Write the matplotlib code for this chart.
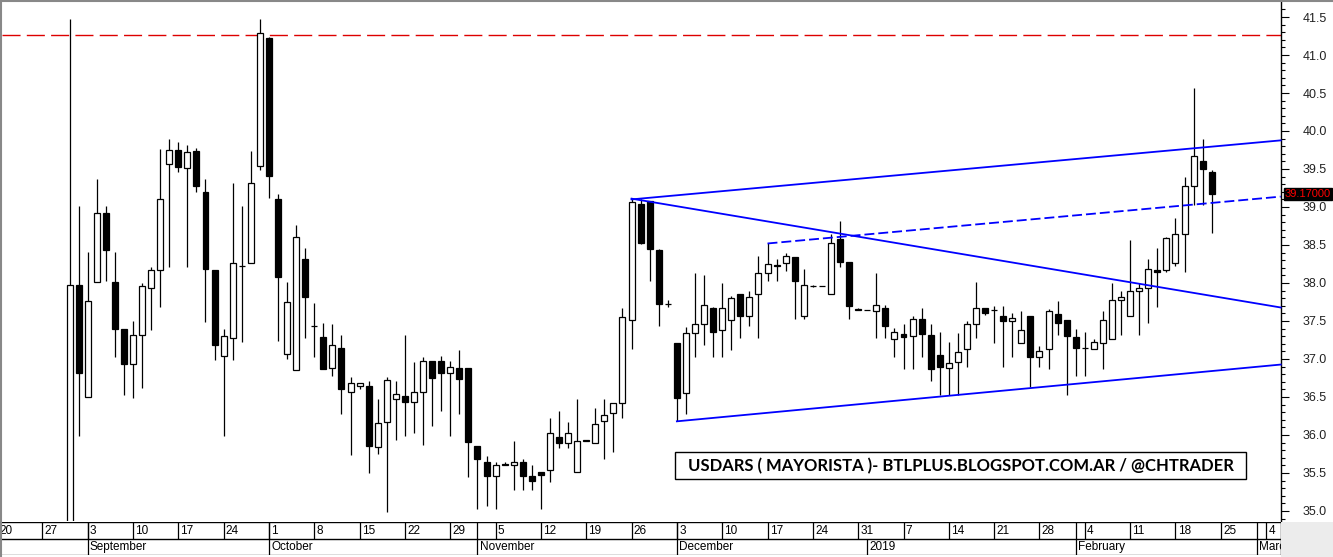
import numpy as np
import pandas as pd
import matplotlib
matplotlib.use('Agg')
import matplotlib.pyplot as plt
from matplotlib.ticker import MultipleLocator, FormatStrFormatter
from matplotlib.lines import Line2D
from matplotlib.patches import Rectangle

# USDARS mayorista, daily candles 30-Aug-2018 .. 22-Feb-2019 (every weekday)
dates = pd.bdate_range('2018-08-30', '2019-02-22')

opens = [34.40, 37.97, 36.50, 38.01, 38.92, 38.01, 37.39, 36.93, 37.32, 37.93,
         38.17, 39.56, 39.75, 39.51, 39.74, 39.20, 38.17, 37.04, 37.27, 38.22,
         38.26, 39.54, 41.22, 39.11, 37.06, 36.86, 38.31, 37.43, 37.29, 36.88,
         37.15, 36.57, 36.65, 36.65, 35.84, 36.17, 36.48, 36.51, 36.43, 36.56,
         36.98, 36.98, 36.81, 36.88, 36.88, 35.86, 35.64, 35.46, 35.62, 35.60,
         35.64, 35.46, 35.51, 35.54, 35.98, 35.90, 35.51, 35.94, 35.90, 36.18,
         36.29, 36.42, 37.51, 39.04, 39.08, 38.43, 37.73, 37.21, 36.55, 37.34,
         37.46, 37.67, 37.38, 37.51, 37.86, 37.57, 37.86, 38.13, 38.24, 38.26,
         38.34, 37.56, 37.96, 37.96, 37.86, 38.58, 38.27, 37.66, 37.64, 37.63,
         37.67, 37.26, 37.33, 37.30, 37.53, 37.32, 37.05, 36.88, 36.96, 37.13,
         37.46, 37.67, 37.65, 37.56, 37.50, 37.21, 37.56, 37.02, 37.13, 37.59,
         37.51, 37.29, 37.14, 37.13, 37.21, 37.26, 37.77, 37.56, 37.90, 37.94,
         38.17, 38.17, 38.26, 38.65, 39.27, 39.61, 39.46]
highs = [41.47, 39.01, 38.41, 39.37, 39.01, 38.41, 37.39, 37.50, 38.00, 38.21,
         39.76, 39.89, 39.86, 39.82, 39.78, 39.37, 38.17, 37.39, 39.32, 39.01,
         39.74, 41.47, 41.24, 39.17, 38.01, 38.76, 38.46, 37.74, 37.48, 37.46,
         37.31, 36.76, 36.69, 36.71, 36.48, 36.76, 36.71, 37.32, 36.96, 37.02,
         36.98, 37.04, 36.98, 37.12, 36.88, 35.86, 35.72, 35.65, 35.64, 35.92,
         35.68, 35.61, 35.51, 36.22, 36.31, 36.17, 36.47, 35.94, 36.35, 36.47,
         36.42, 37.67, 39.10, 39.10, 39.08, 38.45, 37.77, 37.21, 37.42, 38.13,
         38.11, 37.69, 38.00, 37.83, 37.86, 37.89, 38.35, 38.52, 38.31, 38.39,
         38.34, 38.19, 37.98, 37.96, 38.65, 38.82, 38.27, 37.67, 37.64, 38.13,
         37.71, 37.41, 37.46, 37.57, 37.67, 37.46, 37.35, 37.22, 37.34, 37.50,
         38.01, 37.67, 37.70, 37.70, 37.61, 37.63, 37.56, 37.17, 37.66, 37.76,
         37.51, 37.40, 37.36, 37.26, 37.63, 38.00, 37.90, 38.56, 38.00, 38.31,
         38.46, 38.61, 38.86, 39.39, 40.56, 39.89, 39.49]
lows = [34.30, 35.99, 36.50, 38.01, 38.02, 37.02, 36.52, 36.49, 36.62, 37.38,
        37.68, 38.21, 39.46, 38.21, 39.20, 37.49, 36.99, 35.99, 36.99, 37.22,
        38.26, 39.49, 39.12, 37.24, 37.00, 36.86, 37.27, 37.02, 36.87, 36.77,
        36.27, 35.74, 36.60, 35.50, 35.75, 34.99, 35.93, 35.99, 36.02, 35.87,
        36.12, 36.32, 35.99, 36.27, 35.45, 35.02, 35.07, 35.02, 35.60, 35.27,
        35.28, 35.27, 35.02, 35.38, 35.83, 35.83, 35.51, 35.92, 35.90, 35.68,
        35.77, 36.23, 37.13, 38.51, 38.02, 37.43, 37.69, 36.18, 36.27, 37.02,
        37.18, 37.02, 37.02, 37.12, 37.27, 37.43, 37.27, 38.02, 38.02, 38.16,
        37.52, 37.52, 37.95, 37.96, 37.86, 38.21, 37.52, 37.64, 37.64, 37.27,
        37.27, 37.02, 36.87, 36.87, 37.02, 36.71, 36.52, 36.52, 36.52, 36.89,
        37.27, 37.58, 37.21, 36.89, 37.02, 37.21, 36.63, 36.89, 36.87, 37.32,
        36.52, 36.77, 36.77, 37.13, 36.87, 37.26, 37.32, 37.56, 37.32, 37.47,
        37.68, 38.14, 38.22, 38.14, 39.02, 39.02, 38.66]
closes = [37.97, 36.82, 37.76, 38.92, 38.44, 37.40, 36.94, 37.32, 37.96, 38.17,
          39.11, 39.75, 39.52, 39.73, 39.27, 38.18, 37.19, 37.30, 38.26, 38.22,
          39.31, 41.29, 39.41, 38.08, 37.75, 38.60, 37.82, 37.43, 36.87, 37.18,
          36.61, 36.69, 36.69, 35.85, 36.16, 36.72, 36.54, 36.44, 36.56, 36.98,
          36.75, 36.81, 36.89, 36.74, 35.91, 35.69, 35.46, 35.61, 35.60, 35.64,
          35.46, 35.40, 35.48, 36.02, 35.90, 36.02, 35.92, 35.92, 36.15, 36.26,
          36.42, 37.55, 39.07, 38.53, 38.45, 37.73, 37.73, 36.49, 37.34, 37.46,
          37.71, 37.35, 37.67, 37.80, 37.57, 37.81, 38.13, 38.25, 38.22, 38.36,
          38.02, 37.97, 37.96, 37.96, 38.52, 38.28, 37.70, 37.64, 37.64, 37.71,
          37.43, 37.35, 37.29, 37.53, 37.33, 36.87, 36.89, 36.95, 37.09, 37.46,
          37.67, 37.60, 37.65, 37.50, 37.54, 37.38, 37.03, 37.10, 37.63, 37.47,
          37.30, 37.14, 37.14, 37.22, 37.51, 37.77, 37.82, 37.90, 37.94, 38.19,
          38.15, 38.59, 38.65, 39.27, 39.67, 39.50, 39.17]

# trend lines: anchor dates / prices (extended to the right edge)
trend_start_dates = ['2018-11-26', '2018-11-26', '2018-12-17', '2018-12-03']
trend_start_prices = [39.10, 39.11, 38.52, 36.18]
trend_end_date = '2019-03-05'
trend_end_prices = [39.87, 37.69, 39.13, 36.92]
trend_dashed = [False, False, True, False]
resistance = 41.26
last_price = 39.17

week_starts = pd.date_range('2018-08-20', '2019-03-04', freq='W-MON')
month_dates = ['2018-09-03', '2018-10-01', '2018-11-01', '2018-12-03',
               '2019-01-01', '2019-02-01', '2019-03-01']
month_labels = ['September', 'October', 'November', 'December',
                '2019', 'February', 'March']
month_top_sep = [True, True, True, True, False, True, True]

title = 'USDARS ( MAYORISTA )- BTLPLUS.BLOGSPOT.COM.AR / @CHTRADER'

origin = '2018-08-20'
def dayidx(ds):
    return np.busday_count(origin, np.array(ds, dtype='datetime64[D]'))

W, H = 1333, 557
fig = plt.figure(figsize=(W / 100, H / 100), dpi=100)
plt.rcParams['font.family'] = ['Liberation Sans', 'DejaVu Sans']

# pixel layout
px_day, x_off = 9.065, -3.0
left_px, right_px, top_px, bot_px = 2, 1280.7, 2, 521
ax = fig.add_axes([left_px / W, 1 - bot_px / H, (right_px - left_px) / W, (bot_px - top_px) / H])
ax.set_xlim((left_px - x_off) / px_day, (right_px - x_off) / px_day)
ax.set_ylim(41.5 - (bot_px - 17) / 76, 41.5 + (17 - top_px) / 76)

x = dayidx(dates.values.astype('datetime64[D]'))
o, h, l, c = map(np.array, (opens, highs, lows, closes))
up = c >= o
ax.vlines(x, l, h, color='black', lw=0.9, zorder=2)
ax.bar(x, c - o, bottom=o, width=0.66, color=np.where(up, 'white', 'black'),
       edgecolor='black', lw=0.9, zorder=3)

ax.axhline(resistance, color='#dd0000', lw=1.0, linestyle=(0, (13, 4.5)), zorder=1)

xr = ax.get_xlim()[1]
xe = dayidx(trend_end_date)
for sd, sp, ep, dashed in zip(trend_start_dates, trend_start_prices, trend_end_prices, trend_dashed):
    xs = dayidx(sd)
    slope = (ep - sp) / (xe - xs)
    ls = (0, (5.5, 2.2)) if dashed else '-'
    ax.plot([xs, xr], [sp, sp + slope * (xr - xs)], color='#0000ff', lw=1.3,
            linestyle=ls, zorder=4, clip_on=False)

for s in ['left', 'top', 'bottom']:
    ax.spines[s].set_visible(False)
ax.spines['right'].set_linewidth(1.0)
ax.yaxis.tick_right()
ax.yaxis.set_major_locator(MultipleLocator(0.5))
ax.yaxis.set_minor_locator(MultipleLocator(0.1))
ax.yaxis.set_major_formatter(FormatStrFormatter('%.1f'))
ax.tick_params(axis='y', which='major', length=6, width=0.8, pad=10,
               labelsize=9, labelcolor='#222222')
ax.tick_params(axis='y', which='minor', length=3, width=0.8)
ax.set_xticks([])

# last price tag
ax.annotate(f'{last_price:.5f}', xy=(1, last_price), xycoords=('axes fraction', 'data'),
            xytext=(3, 0), textcoords='offset points', ha='left', va='center',
            fontsize=8, color='#ff0000', zorder=10, annotation_clip=False,
            bbox=dict(boxstyle='square,pad=0.12', fc='black', ec='black'))

# title box
fig.patches.append(Rectangle((675 / W, 1 - 479 / H), 571 / W, 27 / H, transform=fig.transFigure,
                             fc='white', ec='black', lw=1.0, zorder=5))
fig.text(960.5 / W, 1 - 466 / H, title, ha='center', va='center', fontsize=12,
         fontweight='bold', family=['Lato', 'DejaVu Sans'], zorder=6)

# date strip
ax2 = fig.add_axes([0, 1 - 555 / H, right_px / W, (555 - 522) / H])
ax2.set_xlim((0 - x_off) / px_day, (right_px - x_off) / px_day)
ax2.set_ylim(0, 1)
ax2.axis('off')
ax2.axhline(1, color='black', lw=1.0)
ax2.axhline(0.5, color='black', lw=1.0)
ax2.axhline(0, color='#555555', lw=1.0)
ax2.axvline(ax2.get_xlim()[1], color='black', lw=1.0)
lab_off = 2.2 / px_day
wx = dayidx(week_starts.values.astype('datetime64[D]'))
ax2.vlines(wx, 0.5, 1, color='black', lw=0.9)
for xi, dt in zip(wx, week_starts):
    ax2.text(xi + lab_off, 0.74, str(dt.day), ha='left', va='center', fontsize=8.5, clip_on=True)
mx = dayidx(month_dates)
for xi, lab, full in zip(mx, month_labels, month_top_sep):
    ax2.vlines(xi, 0, 1 if full else 0.5, color='black', lw=0.9)
    ax2.text(xi + lab_off, 0.24, lab, ha='left', va='center', fontsize=8.5, clip_on=True)

# frame and corner
fig.patches.append(Rectangle((right_px / W, 0), 1 - right_px / W, (H - 522) / H,
                             transform=fig.transFigure, fc='#ececec', ec='none', zorder=0))
fig.add_artist(Line2D([0, 1], [1 - 1 / H] * 2, color='#888888', lw=1.5))
fig.add_artist(Line2D([1 / W] * 2, [0, 1], color='#888888', lw=1.5))

fig.savefig('out.png', dpi=100)
